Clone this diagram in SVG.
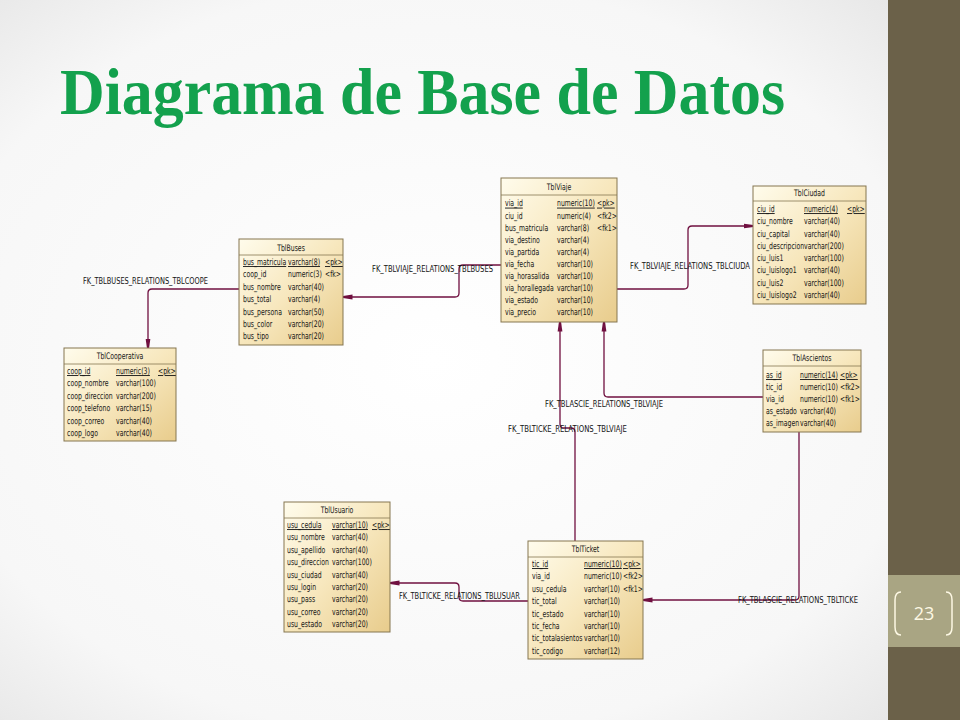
<svg xmlns="http://www.w3.org/2000/svg" width="960" height="720" viewBox="0 0 960 720">
<defs>
<radialGradient id="bg" cx="0.45" cy="0.5" r="0.75">
<stop offset="0" stop-color="#ffffff"/><stop offset="0.7" stop-color="#f7f7f7"/><stop offset="1" stop-color="#e2e2e2"/>
</radialGradient>
<linearGradient id="tg" x1="0" y1="0" x2="1" y2="1">
<stop offset="0" stop-color="#fffcec"/><stop offset="0.5" stop-color="#f7e7bd"/><stop offset="1" stop-color="#e8cc8c"/>
</linearGradient>
<marker id="arr" viewBox="0 0 10 6" refX="9.5" refY="3" markerWidth="10" markerHeight="6" markerUnits="userSpaceOnUse" orient="auto">
<path d="M0,0.6 L10,2 L10,4 L0,5.4 Z" fill="#701040"/>
</marker>
<style>
.box{fill:url(#tg);stroke:#857650;stroke-width:1}
.sep{stroke:#857650;stroke-width:0.8}
text{font-family:"Liberation Sans Narrow","DejaVu Sans Condensed","Liberation Sans",sans-serif;font-size:9px;fill:#141414}
.ttl{text-anchor:middle}
.pk{text-decoration:underline}
.conn{fill:none;stroke:#701040;stroke-width:1.3}
.lbl{font-size:8.3px}
</style>
</defs>
<rect width="960" height="720" fill="url(#bg)"/>
<rect x="888" y="0" width="72" height="720" fill="#6b6149"/>
<rect x="888" y="575" width="72" height="72" fill="#a9a583"/>
<path d="M901,592 Q895,592 895,600 V627 Q895,635 901,635" fill="none" stroke="#fdf8e4" stroke-width="1.5"/>
<path d="M946,592 Q952,592 952,600 V627 Q952,635 946,635" fill="none" stroke="#fdf8e4" stroke-width="1.5"/>
<text x="924" y="620" style="font-family:'Open Sans','Liberation Sans',sans-serif;font-size:18px;fill:#fdf8e4;text-anchor:middle">23</text>
<text x="60" y="114" textLength="725" lengthAdjust="spacingAndGlyphs" style="font-family:'Liberation Serif','DejaVu Serif',serif;font-weight:bold;font-size:66px;fill:#13a14d">Diagrama de Base de Datos</text>

<g id="connectors">
<path class="conn" d="M239,289 H152 Q148,289 148,293 V348" marker-end="url(#arr)"/>
<path class="conn" d="M501,265 H463 Q459,265 459,269 V293 Q459,297 455,297 H343" marker-end="url(#arr)"/>
<path class="conn" d="M617,289 H684 Q688,289 688,285 V230 Q688,226 692,226 H753" marker-end="url(#arr)"/>
<path class="conn" d="M763,397 H608 Q604,397 604,393 V322" marker-end="url(#arr)"/>
<path class="conn" d="M575,541 V432 Q575,428 571,428 H564 Q560,428 560,424 V322" marker-end="url(#arr)"/>
<path class="conn" d="M528,601 H463 Q459,601 459,597 V587 Q459,583 455,583 H390" marker-end="url(#arr)"/>
<path class="conn" d="M799,432 V596 Q799,600 795,600 H643" marker-end="url(#arr)"/>
<text class="lbl" x="83" y="284" textLength="125" lengthAdjust="spacingAndGlyphs">FK_TBLBUSES_RELATIONS_TBLCOOPE</text>
<text class="lbl" x="372" y="272" textLength="121" lengthAdjust="spacingAndGlyphs">FK_TBLVIAJE_RELATIONS_TBLBUSES</text>
<text class="lbl" x="630" y="269" textLength="120" lengthAdjust="spacingAndGlyphs">FK_TBLVIAJE_RELATIONS_TBLCIUDA</text>
<text class="lbl" x="545" y="407" textLength="118" lengthAdjust="spacingAndGlyphs">FK_TBLASCIE_RELATIONS_TBLVIAJE</text>
<text class="lbl" x="508" y="432" textLength="119" lengthAdjust="spacingAndGlyphs">FK_TBLTICKE_RELATIONS_TBLVIAJE</text>
<text class="lbl" x="399" y="599" textLength="121" lengthAdjust="spacingAndGlyphs">FK_TBLTICKE_RELATIONS_TBLUSUAR</text>
<text class="lbl" x="738" y="603" textLength="120" lengthAdjust="spacingAndGlyphs">FK_TBLASCIE_RELATIONS_TBLTICKE</text>
</g>

<g id="TblViaje">
<rect class="box" x="501" y="178" width="116" height="144"/>
<line class="sep" x1="501" y1="195" x2="617" y2="195"/>
<g transform="matrix(0.76,0,0,1,505,0)">
<text class="ttl" x="71.05" y="190">TblViaje</text>
<text class="pk" x="0" y="206.5">via_id</text><text class="pk" x="68.42" y="206.5">numeric(10)</text><text class="pk" x="121.05" y="206.5">&lt;pk&gt;</text>
<text x="0" y="218.6">ciu_id</text><text x="68.42" y="218.6">numeric(4)</text><text x="121.05" y="218.6">&lt;fk2&gt;</text>
<text x="0" y="230.7">bus_matricula</text><text x="68.42" y="230.7">varchar(8)</text><text x="121.05" y="230.7">&lt;fk1&gt;</text>
<text x="0" y="242.8">via_destino</text><text x="68.42" y="242.8">varchar(4)</text>
<text x="0" y="254.9">via_partida</text><text x="68.42" y="254.9">varchar(4)</text>
<text x="0" y="267">via_fecha</text><text x="68.42" y="267">varchar(10)</text>
<text x="0" y="279.1">via_horasalida</text><text x="68.42" y="279.1">varchar(10)</text>
<text x="0" y="291.2">via_horallegada</text><text x="68.42" y="291.2">varchar(10)</text>
<text x="0" y="303.3">via_estado</text><text x="68.42" y="303.3">varchar(10)</text>
<text x="0" y="315.4">via_precio</text><text x="68.42" y="315.4">varchar(10)</text>
</g>
</g>

<g id="TblCiudad">
<rect class="box" x="753" y="186" width="113" height="118"/>
<line class="sep" x1="753" y1="201" x2="866" y2="201"/>
<g transform="matrix(0.76,0,0,1,757,0)">
<text class="ttl" x="69.08" y="196">TblCiudad</text>
<text class="pk" x="0" y="212">ciu_id</text><text class="pk" x="61.84" y="212">numeric(4)</text><text class="pk" x="118.42" y="212">&lt;pk&gt;</text>
<text x="0" y="224.3">ciu_nombre</text><text x="61.84" y="224.3">varchar(40)</text>
<text x="0" y="236.6">ciu_capital</text><text x="61.84" y="236.6">varchar(40)</text>
<text x="0" y="248.9">ciu_descripcion</text><text x="61.84" y="248.9">varchar(200)</text>
<text x="0" y="261.2">ciu_luis1</text><text x="61.84" y="261.2">varchar(100)</text>
<text x="0" y="273.5">ciu_luislogo1</text><text x="61.84" y="273.5">varchar(40)</text>
<text x="0" y="285.8">ciu_luis2</text><text x="61.84" y="285.8">varchar(100)</text>
<text x="0" y="298.1">ciu_luislogo2</text><text x="61.84" y="298.1">varchar(40)</text>
</g>
</g>

<g id="TblBuses">
<rect class="box" x="239" y="239" width="104" height="106"/>
<line class="sep" x1="239" y1="255" x2="343" y2="255"/>
<g transform="matrix(0.76,0,0,1,243,0)">
<text class="ttl" x="63.16" y="251">TblBuses</text>
<text class="pk" x="0" y="265">bus_matricula</text><text class="pk" x="59.21" y="265">varchar(8)</text><text class="pk" x="107.89" y="265">&lt;pk&gt;</text>
<text x="0" y="277.4">coop_id</text><text x="59.21" y="277.4">numeric(3)</text><text x="107.89" y="277.4">&lt;fk&gt;</text>
<text x="0" y="289.8">bus_nombre</text><text x="59.21" y="289.8">varchar(40)</text>
<text x="0" y="302.2">bus_total</text><text x="59.21" y="302.2">varchar(4)</text>
<text x="0" y="314.6">bus_persona</text><text x="59.21" y="314.6">varchar(50)</text>
<text x="0" y="327">bus_color</text><text x="59.21" y="327">varchar(20)</text>
<text x="0" y="339.4">bus_tipo</text><text x="59.21" y="339.4">varchar(20)</text>
</g>
</g>

<g id="TblCooperativa">
<rect class="box" x="64" y="348" width="112" height="93"/>
<line class="sep" x1="64" y1="364" x2="176" y2="364"/>
<g transform="matrix(0.76,0,0,1,67,0)">
<text class="ttl" x="69.74" y="359">TblCooperativa</text>
<text class="pk" x="0" y="374">coop_id</text><text class="pk" x="64.47" y="374">numeric(3)</text><text class="pk" x="119.74" y="374">&lt;pk&gt;</text>
<text x="0" y="386.4">coop_nombre</text><text x="64.47" y="386.4">varchar(100)</text>
<text x="0" y="398.8">coop_direccion</text><text x="64.47" y="398.8">varchar(200)</text>
<text x="0" y="411.2">coop_telefono</text><text x="64.47" y="411.2">varchar(15)</text>
<text x="0" y="423.6">coop_correo</text><text x="64.47" y="423.6">varchar(40)</text>
<text x="0" y="436">coop_logo</text><text x="64.47" y="436">varchar(40)</text>
</g>
</g>

<g id="TblAscientos">
<rect class="box" x="763" y="350" width="98" height="82"/>
<line class="sep" x1="763" y1="366" x2="861" y2="366"/>
<g transform="matrix(0.76,0,0,1,766,0)">
<text class="ttl" x="60.53" y="361">TblAscientos</text>
<text class="pk" x="0" y="378">as_id</text><text class="pk" x="44.74" y="378">numeric(14)</text><text class="pk" x="97.37" y="378">&lt;pk&gt;</text>
<text x="0" y="390">tic_id</text><text x="44.74" y="390">numeric(10)</text><text x="97.37" y="390">&lt;fk2&gt;</text>
<text x="0" y="402">via_id</text><text x="44.74" y="402">numeric(10)</text><text x="97.37" y="402">&lt;fk1&gt;</text>
<text x="0" y="414">as_estado</text><text x="44.74" y="414">varchar(40)</text>
<text x="0" y="426">as_imagen</text><text x="44.74" y="426">varchar(40)</text>
</g>
</g>

<g id="TblUsuario">
<rect class="box" x="284" y="502" width="106" height="130"/>
<line class="sep" x1="284" y1="518" x2="390" y2="518"/>
<g transform="matrix(0.76,0,0,1,287,0)">
<text class="ttl" x="65.79" y="513">TblUsuario</text>
<text class="pk" x="0" y="528">usu_cedula</text><text class="pk" x="59.21" y="528">varchar(10)</text><text class="pk" x="111.84" y="528">&lt;pk&gt;</text>
<text x="0" y="540.4">usu_nombre</text><text x="59.21" y="540.4">varchar(40)</text>
<text x="0" y="552.8">usu_apellido</text><text x="59.21" y="552.8">varchar(40)</text>
<text x="0" y="565.2">usu_direccion</text><text x="59.21" y="565.2">varchar(100)</text>
<text x="0" y="577.6">usu_ciudad</text><text x="59.21" y="577.6">varchar(40)</text>
<text x="0" y="590">usu_login</text><text x="59.21" y="590">varchar(20)</text>
<text x="0" y="602.4">usu_pass</text><text x="59.21" y="602.4">varchar(20)</text>
<text x="0" y="614.8">usu_correo</text><text x="59.21" y="614.8">varchar(20)</text>
<text x="0" y="627.2">usu_estado</text><text x="59.21" y="627.2">varchar(20)</text>
</g>
</g>

<g id="TblTicket">
<rect class="box" x="528" y="541" width="115" height="118"/>
<line class="sep" x1="528" y1="557" x2="643" y2="557"/>
<g transform="matrix(0.76,0,0,1,532,0)">
<text class="ttl" x="70.39" y="552">TblTicket</text>
<text class="pk" x="0" y="567">tic_id</text><text class="pk" x="68.42" y="567">numeric(10)</text><text class="pk" x="119.74" y="567">&lt;pk&gt;</text>
<text x="0" y="579.4">via_id</text><text x="68.42" y="579.4">numeric(10)</text><text x="119.74" y="579.4">&lt;fk2&gt;</text>
<text x="0" y="591.8">usu_cedula</text><text x="68.42" y="591.8">varchar(10)</text><text x="119.74" y="591.8">&lt;fk1&gt;</text>
<text x="0" y="604.2">tic_total</text><text x="68.42" y="604.2">varchar(10)</text>
<text x="0" y="616.6">tic_estado</text><text x="68.42" y="616.6">varchar(10)</text>
<text x="0" y="629">tic_fecha</text><text x="68.42" y="629">varchar(10)</text>
<text x="0" y="641.4">tic_totalasientos</text><text x="68.42" y="641.4">varchar(10)</text>
<text x="0" y="653.8">tic_codigo</text><text x="68.42" y="653.8">varchar(12)</text>
</g>
</g>
</svg>
